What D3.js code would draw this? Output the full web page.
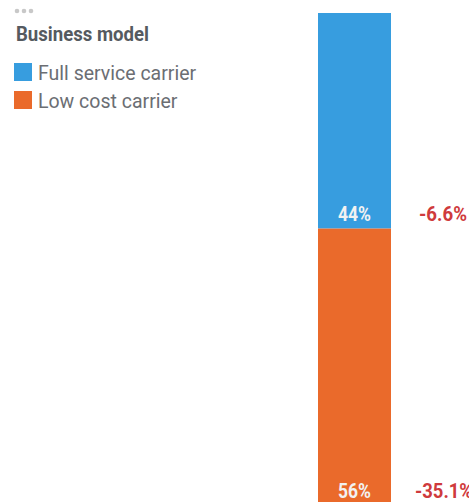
<!DOCTYPE html>
<html><head><meta charset="utf-8">
<script src="https://cdn.jsdelivr.net/npm/d3@7"></script>
<style>body{margin:0;background:#fff;overflow:hidden}svg{display:block}</style>
</head><body>
<svg id="c" width="469" height="502"></svg>
<script>
const categories = ["Full service carrier", "Low cost carrier"];
const shares = [44, 56];
const changes = ["-6.6%", "-35.1%"];
const colors = ["#379ddf", "#ea6a2b"];

const svg = d3.select("#c");
const font = "Roboto, 'Noto Sans', sans-serif";

// dots
svg.selectAll("circle.dot").data([0,1,2]).join("circle")
  .attr("cx", d => 17 + d * 7).attr("cy", 11).attr("r", 2.3).attr("fill", "#c8c8c8");

svg.append("text").attr("x", 16).attr("y", 41).text("Business model")
  .attr("font-family", font).attr("font-weight", "bold").attr("font-size", 19.5)
  .attr("fill", "#555a60").attr("textLength", 133).attr("lengthAdjust", "spacingAndGlyphs");

const leg = svg.selectAll("g.leg").data(categories).join("g")
  .attr("transform", (d, i) => `translate(14,${63 + i * 28})`);
leg.append("rect").attr("width", 18).attr("height", 18).attr("fill", (d, i) => colors[i]);
leg.append("text").attr("x", 24).attr("y", 17).text(d => d)
  .attr("font-family", font).attr("font-size", 19.5).attr("fill", "#6b6e73");

const y = d3.scaleLinear().domain([0, 100]).range([13, 503]);
const x0 = 318, bw = 73;
let cum = 0;
const segs = shares.map((v, i) => { const s = {i, v, a: cum, b: cum + v}; cum += v; return s; });

svg.selectAll("rect.seg").data(segs).join("rect")
  .attr("x", x0).attr("width", bw)
  .attr("y", d => y(d.a)).attr("height", d => y(d.b) - y(d.a))
  .attr("fill", d => colors[d.i]);

const labY = [221, 498];
svg.selectAll("text.val").data(segs).join("text")
  .attr("x", x0 + bw / 2).attr("y", (d, i) => labY[i])
  .attr("text-anchor", "middle").text(d => d.v + "%")
  .attr("font-family", font).attr("font-weight", "bold").attr("font-size", 19.5).attr("fill", "#f2f2f2")
  .attr("textLength", 33).attr("lengthAdjust", "spacingAndGlyphs");

const chX = [419, 415];
const chW = [48, 58];
svg.selectAll("text.chg").data(changes).join("text")
  .attr("x", (d, i) => chX[i]).attr("y", (d, i) => labY[i]).text(d => d)
  .attr("font-family", font).attr("font-weight", "bold").attr("font-size", 19.5).attr("fill", "#cf3a3c")
  .attr("textLength", (d, i) => chW[i]).attr("lengthAdjust", "spacingAndGlyphs");
</script>
</body></html>
